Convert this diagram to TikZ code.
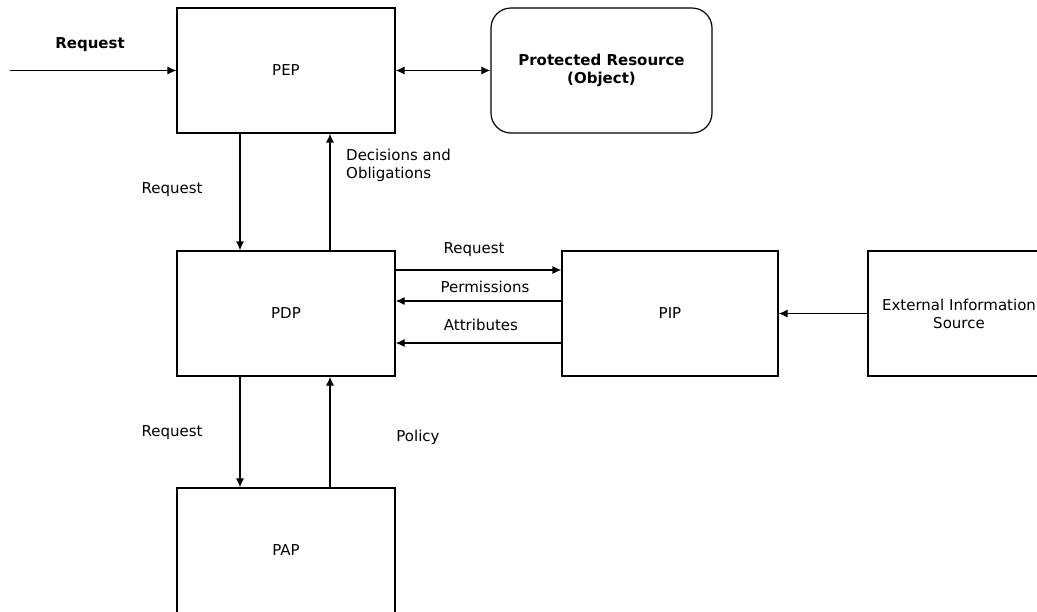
\documentclass[tikz,border=0pt]{standalone}
\usepackage{fontspec}
\setmainfont{DejaVu Sans}
\usetikzlibrary{arrows.meta}
\tikzset{
  box/.style={draw, line width=1.2pt, minimum width=218pt, minimum height=125pt, inner sep=0pt, align=center, font=\fontsize{15}{18}\selectfont},
  conn/.style={line width=1.2pt, -{Latex[length=9pt,width=8pt]}},
  lbl/.style={font=\fontsize{15}{18}\selectfont, inner sep=0pt, align=left}
}
\begin{document}
\begin{tikzpicture}[x=1pt,y=-1pt]
\useasboundingbox (0,0) rectangle (1037,611);
\begin{scope}
\clip (0,0) rectangle (1037,611);
\node[box] (pep) at (286,70.5) {PEP};
\node[box, minimum width=221pt, rounded corners=20pt, font=\fontsize{15}{18}\selectfont\bfseries] (pr) at (601.5,70.5) {Protected Resource\\(Object)};
\node[box] (pdp) at (286,313.5) {PDP};
\node[box, minimum width=216pt] (pip) at (670,313.5) {PIP};
\node[box, minimum width=182pt] (ext) at (959,313.5) {External Information\\Source};
\node[box] (pap) at (286,550.5) {PAP};
\coordinate (in) at (10,70.5);
\draw[conn] (in) -- (pep.west);
\draw[conn, {Latex[length=9pt,width=8pt]}-{Latex[length=9pt,width=8pt]}] (pep.east) -- (pr.west);
\draw[conn] ([xshift=-46pt]pep.south) -- ([xshift=-46pt]pdp.north);
\draw[conn] ([xshift=44pt]pdp.north) -- ([xshift=44pt]pep.south);
\draw[conn] ([yshift=43.5pt]pdp.east) -- ([yshift=43.5pt]pip.west);
\draw[conn] ([yshift=12.5pt]pip.west) -- ([yshift=12.5pt]pdp.east);
\draw[conn] ([yshift=-29.5pt]pip.west) -- ([yshift=-29.5pt]pdp.east);
\draw[conn] (ext.west) -- (pip.east);
\draw[conn] ([xshift=-46pt]pdp.south) -- ([xshift=-46pt]pap.north);
\draw[conn] ([xshift=44pt]pap.north) -- ([xshift=44pt]pdp.south);
\end{scope}
\node[lbl, font=\fontsize{15}{18}\selectfont\bfseries] (l1) at (90,45) {Request};
\node[lbl] (l2) at (172,190) {Request};
\node[lbl, anchor=west] (l3) at (346,165.5) {Decisions and\\Obligations};
\node[lbl] (l4) at (474,250) {Request};
\node[lbl] (l5) at (485,287) {Permissions};
\node[lbl] (l6) at (481,325) {Attributes};
\node[lbl] (l7) at (172,433) {Request};
\node[lbl] (l8) at (418,437) {Policy};
\end{tikzpicture}
\end{document}
